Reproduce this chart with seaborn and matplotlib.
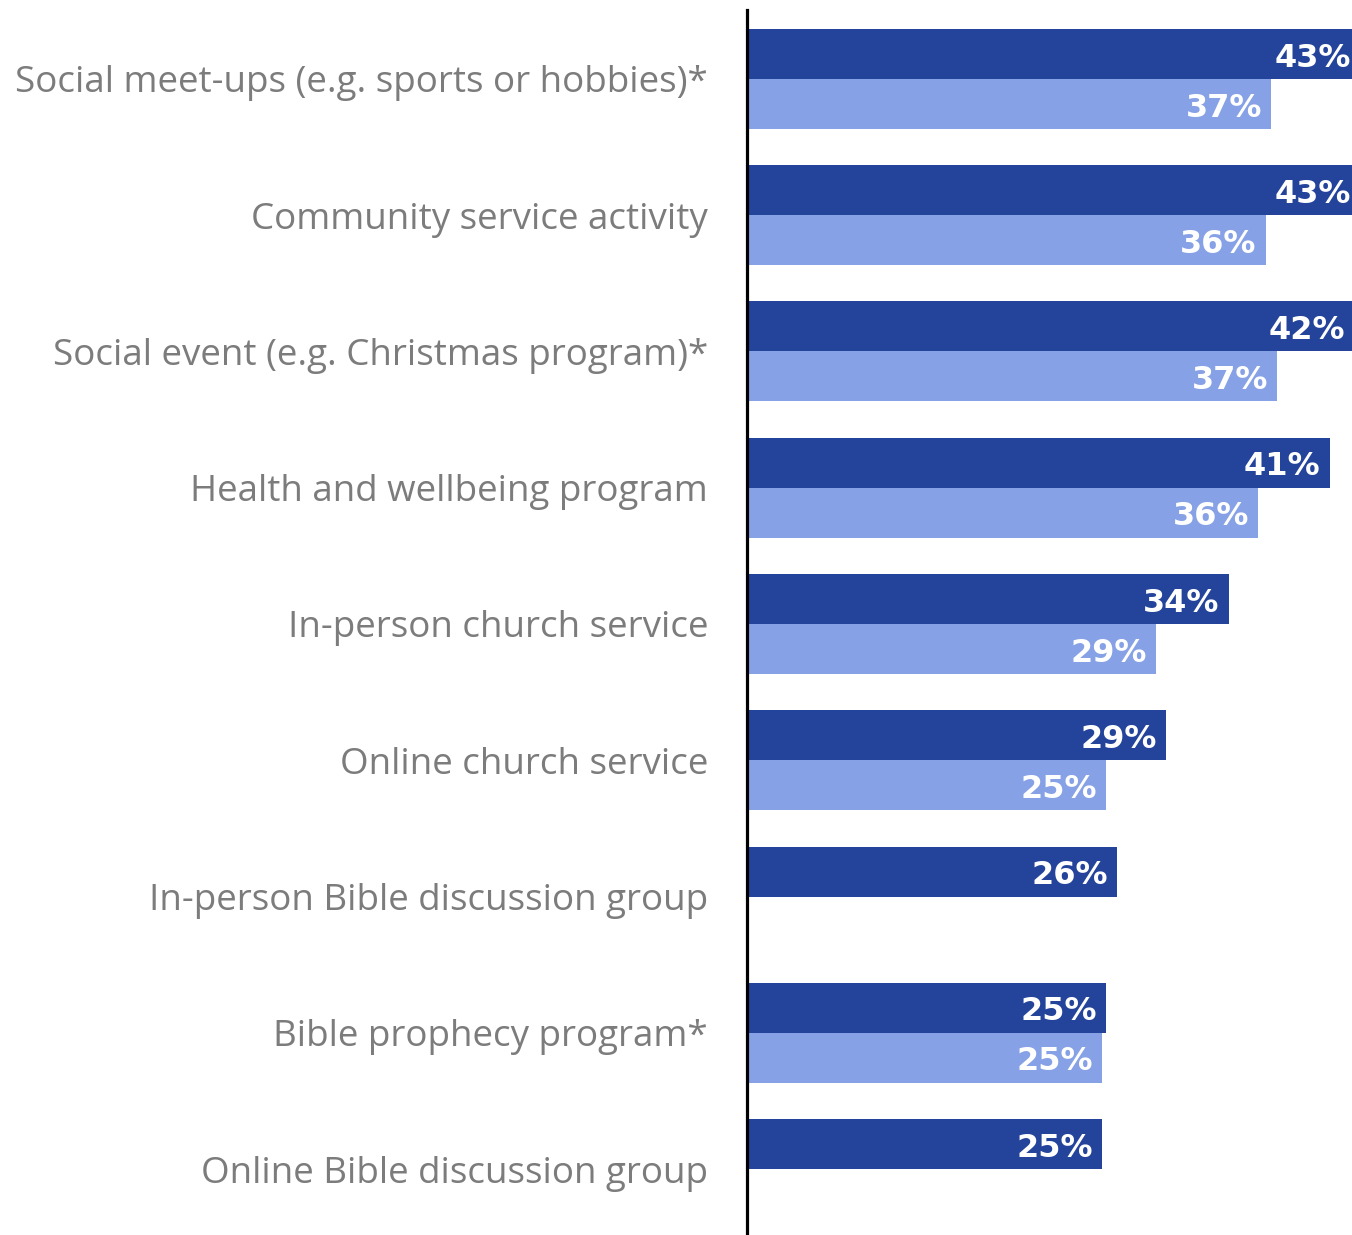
import numpy as np
import pandas as pd
import matplotlib
matplotlib.use("Agg")
import matplotlib.pyplot as plt
import seaborn as sns

categories = [
    "Social meet-ups (e.g. sports or hobbies)*",
    "Community service activity",
    "Social event (e.g. Christmas program)*",
    "Health and wellbeing program",
    "In-person church service",
    "Online church service",
    "In-person Bible discussion group",
    "Bible prophecy program*",
    "Online Bible discussion group",
]
series = ["Group A", "Group B"]
# bar lengths (percent)
dark_vals = [43.0, 43.0, 42.6, 40.9, 33.8, 29.4, 26.0, 25.2, 24.9]
light_vals = [36.8, 36.4, 37.2, 35.9, 28.7, 25.2, np.nan, 24.9, np.nan]
# printed labels
dark_labels = ["43%", "43%", "42%", "41%", "34%", "29%", "26%", "25%", "25%"]
light_labels = ["37%", "36%", "37%", "36%", "29%", "25%", "", "25%", ""]

colors = ["#23449A", "#86A1E5"]

sns.set_theme(style="white")
plt.rcParams["font.family"] = ["Open Sans", "DejaVu Sans"]

rows = []
for c, d, l in zip(categories, dark_vals, light_vals):
    rows.append({"category": c, "series": series[0], "value": d})
    rows.append({"category": c, "series": series[1], "value": l})
df = pd.DataFrame(rows).dropna()

fig = plt.figure(figsize=(13.52, 12.35), dpi=100)
ax = fig.add_axes([747 / 1352, 0.0, 1 - 747 / 1352, 1 - 10 / 1235])

sns.barplot(data=df, y="category", x="value", hue="series", orient="h",
            order=categories, hue_order=series, palette=colors,
            width=0.734, saturation=1, dodge=True, legend=False, ax=ax,
            linewidth=0, errorbar=None)

ax.set_xlim(0, (1352 - 749) / 14.2)
ax.set_ylim(8.484, -0.506)
ax.set_xlabel("")
ax.set_ylabel("")
ax.set_xticks([])
ax.tick_params(axis="y", length=0, pad=28, labelsize=26.5, labelcolor="#7c7c7c")
for lab in ax.get_yticklabels():
    lab.set_fontfamily(["Open Sans", "DejaVu Sans"])

for s in ["top", "right", "bottom"]:
    ax.spines[s].set_visible(False)
ax.spines["left"].set_linewidth(2.3)
ax.spines["left"].set_color("black")

label_sets = [dark_labels, light_labels]
for ci, cont in enumerate(ax.containers):
    for p in cont.patches:
        w = p.get_width()
        if not np.isfinite(w) or w == 0:
            continue
        yc = p.get_y() + p.get_height() / 2
        idx = int(round(yc))
        txt = label_sets[ci][idx]
        if not txt:
            continue
        ax.annotate(txt, xy=(w, yc), xytext=(-6.5, -3), textcoords="offset points",
                    ha="right", va="center", color="white", fontsize=23,
                    fontweight="bold", family="DejaVu Sans",
                    annotation_clip=False)

fig.savefig("out.png", dpi=100)
